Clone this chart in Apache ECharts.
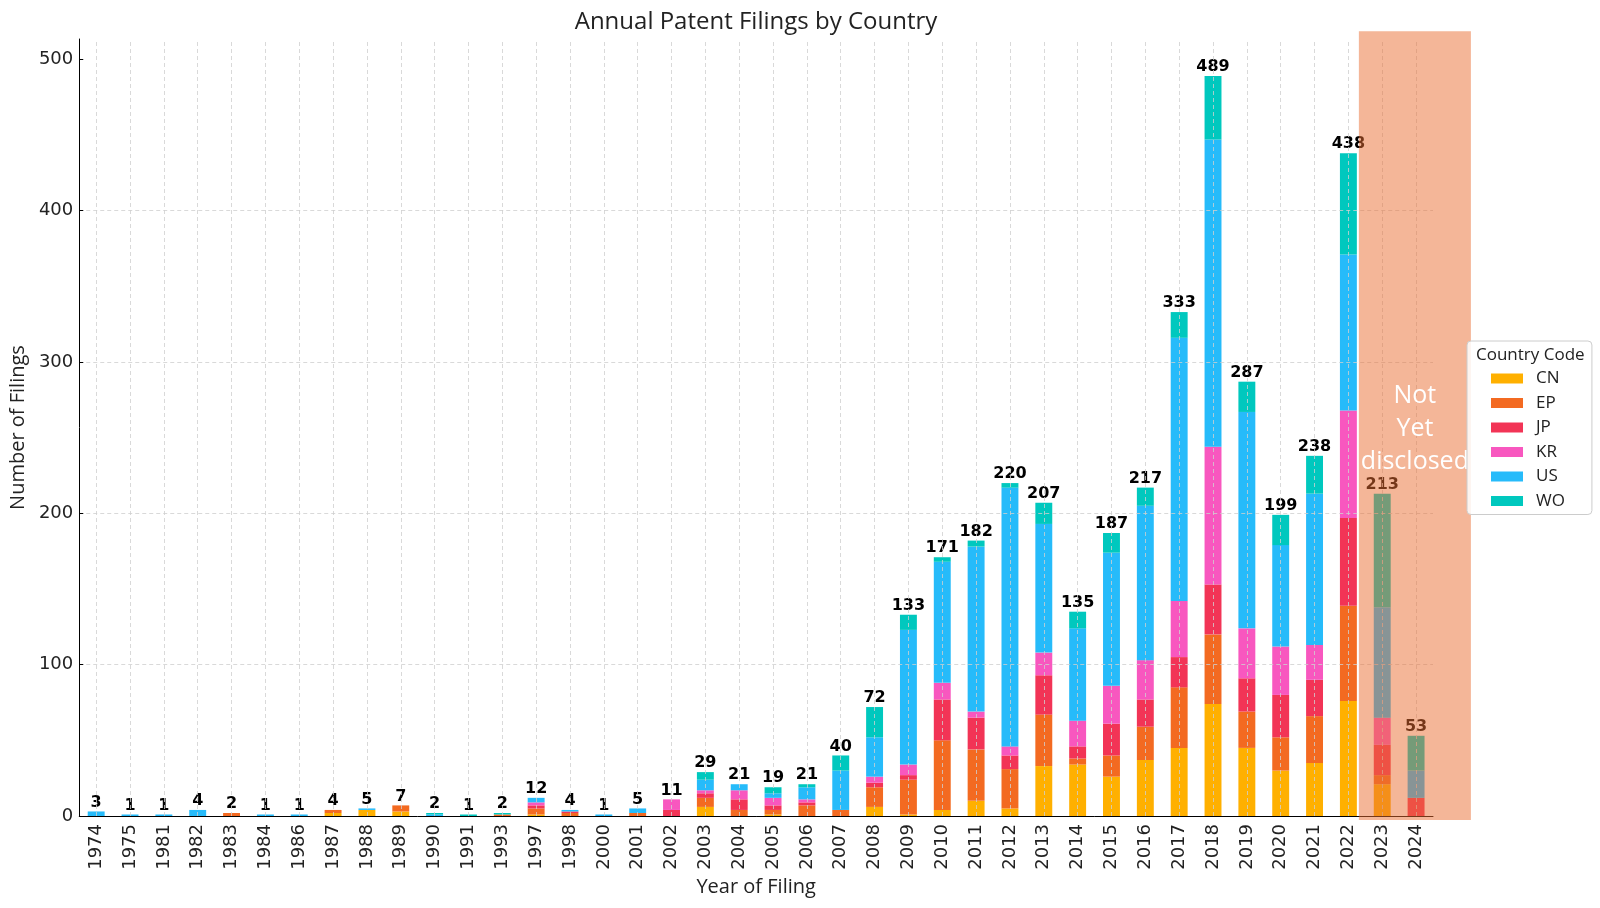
<!DOCTYPE html>
<html>
<head>
<meta charset="utf-8">
<title>Annual Patent Filings by Country</title>
<script src="https://cdn.jsdelivr.net/npm/echarts@6/dist/echarts.min.js"></script>
<style>
  html, body { margin: 0; padding: 0; background: #fff; }
  #chart { width: 1600px; height: 908px; }
</style>
</head>
<body>
<div id="chart"></div>
<script>
const years = ['1974', '1975', '1981', '1982', '1983', '1984', '1986', '1987', '1988', '1989',
  '1990', '1991', '1993', '1997', '1998', '2000', '2001', '2002', '2003', '2004',
  '2005', '2006', '2007', '2008', '2009', '2010', '2011', '2012', '2013', '2014',
  '2015', '2016', '2017', '2018', '2019', '2020', '2021', '2022', '2023', '2024']

const cn = [0, 0, 0, 0, 0, 0, 0, 2, 4, 3, 0, 0, 0, 1, 0, 0, 0, 0, 6, 0,
  1, 0, 0, 6, 1, 4, 10, 5, 33, 34, 26, 37, 45, 74, 45, 30, 35, 76, 21, 0]
const ep = [0, 0, 0, 0, 2, 0, 0, 2, 0, 4, 0, 0, 1, 4, 2, 0, 2, 0, 6, 4,
  3, 7, 4, 13, 23, 46, 34, 26, 34, 4, 14, 22, 40, 46, 24, 22, 31, 63, 6, 0]
const jp = [0, 0, 0, 0, 0, 0, 0, 0, 0, 0, 0, 0, 0, 2, 1, 0, 0, 4, 3, 7,
  3, 2, 0, 3, 3, 27, 21, 9, 26, 8, 21, 18, 20, 33, 22, 28, 24, 58, 20, 12]
const kr = [0, 0, 0, 0, 0, 0, 0, 0, 0, 0, 0, 0, 0, 2, 0, 0, 0, 7, 2, 6,
  5, 2, 0, 4, 7, 11, 4, 6, 15, 17, 25, 26, 37, 91, 33, 32, 23, 71, 18, 0]
const us = [3, 1, 1, 4, 0, 1, 1, 0, 1, 0, 1, 0, 0, 3, 1, 1, 3, 0, 7, 4,
  3, 8, 26, 26, 89, 80, 109, 171, 85, 61, 88, 102, 174, 203, 143, 67, 100, 103, 73, 18]
const wo = [0, 0, 0, 0, 0, 0, 0, 0, 0, 0, 1, 1, 1, 0, 0, 0, 0, 0, 5, 0,
  4, 2, 10, 20, 10, 3, 4, 3, 14, 11, 13, 12, 17, 42, 20, 20, 25, 67, 75, 23]

const countries = ['CN', 'EP', 'JP', 'KR', 'US', 'WO']
const yTicks = [0, 100, 200, 300, 400, 500]

const seriesData = [cn, ep, jp, kr, us, wo]
const totals = years.map((_, i) => seriesData.reduce((s, arr) => s + arr[i], 0))

// styling
const colors = ['#FFB000', '#F36A21', '#F23456', '#F857BF', '#26BBFA', '#00C8BE']
const yMax = 513.45
// "not yet disclosed" band, in category-index units / y units
const shadeFrom = 37.31
const shadeTo = 40.62
const shadeBottom = -2.6
const shadeTop = 518.5
const shadeTextY = 256

const gridLine = { color: '#cfcfcf', width: 0.8, type: [4, 3] }

const chart = echarts.init(document.getElementById('chart'))

const series = countries.map((name, k) => {
  const s = {
    name: name,
    type: 'bar',
    stack: 'total',
    barWidth: '50%',
    data: seriesData[k],
    itemStyle: { color: colors[k] },
    animation: false,
  }
  if (k === countries.length - 1) {
    s.label = {
      show: true,
      position: 'top',
      distance: 1,
      formatter: (p) => totals[p.dataIndex],
      fontFamily: 'DejaVu Sans',
      fontWeight: 'bold',
      fontSize: 16,
      color: '#000',
    }
    // vertical grid lines on top of the bars
    s.markLine = {
      silent: true,
      symbol: 'none',
      animation: false,
      label: { show: false },
      lineStyle: gridLine,
      data: years.map((y) => ({ xAxis: y })),
    }
  }
  return s
})

const option = {
  animation: false,
  title: [
    {
      text: 'Annual Patent Filings by Country',
      left: 751,
      top: 5,
      textAlign: 'center',
      textStyle: { fontFamily: 'Open Sans', fontSize: 24, fontWeight: 'normal', color: '#222' },
    },
    {
      text: 'Country Code',
      left: 1471,
      top: 342,
      z: 120,
      textStyle: { fontFamily: 'Open Sans', fontSize: 17, fontWeight: 'normal', color: '#222' },
    },
  ],
  legend: {
    data: countries,
    orient: 'vertical',
    left: 1467,
    top: 341,
    z: 110,
    padding: [29, 27, 5, 24],
    itemWidth: 32,
    itemHeight: 10,
    itemGap: 7.5,
    icon: 'rect',
    backgroundColor: 'rgba(255,255,255,0.85)',
    borderColor: '#cccccc',
    borderWidth: 1,
    borderRadius: 4,
    textStyle: { fontFamily: 'Open Sans', fontSize: 17, lineHeight: 17, color: '#222', padding: [0, 0, 0, 8] },
  },
  grid: { left: 79, right: 167, top: 39, bottom: 92 },
  xAxis: {
    type: 'category',
    data: years,
    z: 3,
    name: 'Year of Filing',
    nameLocation: 'middle',
    nameGap: 58,
    nameTextStyle: { fontFamily: 'Open Sans', fontSize: 20, color: '#222' },
    axisLine: { lineStyle: { color: '#000', width: 1 } },
    axisTick: { alignWithLabel: true, inside: true, length: 4, lineStyle: { color: '#000' } },
    axisLabel: { rotate: 90, interval: 0, margin: 8, fontFamily: 'DejaVu Sans', fontSize: 18, color: '#222' },
    splitLine: { show: false },
  },
  yAxis: {
    type: 'value',
    min: 0,
    max: yMax,
    z: 3,
    name: 'Number of Filings',
    nameLocation: 'middle',
    nameGap: 48,
    nameTextStyle: { fontFamily: 'Open Sans', fontSize: 20, color: '#222' },
    axisLine: { show: true, lineStyle: { color: '#000', width: 1 } },
    axisTick: { show: true, inside: true, length: 4, lineStyle: { color: '#000' }, customValues: yTicks },
    axisLabel: { margin: 6, fontFamily: 'DejaVu Sans', fontSize: 18, color: '#222', customValues: yTicks },
    splitLine: { show: true, showMaxLine: false, lineStyle: gridLine },
  },
  series: series,
}

chart.setOption(option)

// shaded "not yet disclosed" band, placed through the axes
const c0 = chart.convertToPixel({ xAxisIndex: 0 }, years[0])
const c1 = chart.convertToPixel({ xAxisIndex: 0 }, years[1])
const bw = c1 - c0
const xAt = (idx) => c0 + idx * bw
const yAt = (v) => chart.convertToPixel({ yAxisIndex: 0 }, v)

chart.setOption({
  graphic: [
    {
      type: 'rect',
      z: 100,
      silent: true,
      shape: {
        x: xAt(shadeFrom),
        y: yAt(shadeTop),
        width: xAt(shadeTo) - xAt(shadeFrom),
        height: yAt(shadeBottom) - yAt(shadeTop),
      },
      style: { fill: 'rgba(233,109,49,0.5)' },
    },
    {
      type: 'text',
      z: 101,
      silent: true,
      x: (xAt(shadeFrom) + xAt(shadeTo)) / 2,
      y: yAt(shadeTextY),
      style: {
        text: 'Not\nYet\ndisclosed',
        fill: '#fff',
        fontFamily: 'Open Sans',
        fontSize: 25,
        lineHeight: 33,
        align: 'center',
        verticalAlign: 'middle',
      },
    },
  ],
})
</script>
</body>
</html>
